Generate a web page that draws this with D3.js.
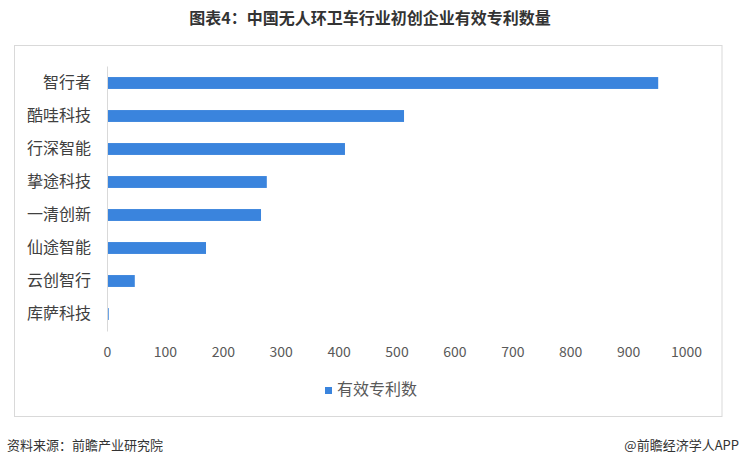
<!DOCTYPE html>
<html>
<head>
<meta charset="utf-8">
<script src="https://cdn.jsdelivr.net/npm/d3@7/dist/d3.min.js"></script>
<style>
  html, body { margin: 0; padding: 0; background: #fff; }
  svg { display: block; }
</style>
</head>
<body>
<svg id="chart" width="739" height="459"></svg>
<script>
const categories = ["智行者", "酷哇科技", "行深智能", "挚途科技", "一清创新", "仙途智能", "云创智行", "库萨科技"];
const values = [952, 513, 411, 276, 266, 171, 48, 3];
const xTicks = [0, 100, 200, 300, 400, 500, 600, 700, 800, 900, 1000];
const seriesName = "有效专利数";
const titleText = "图表4：中国无人环卫车行业初创企业有效专利数量";
const sourceText = "资料来源：前瞻产业研究院";
const creditText = "@前瞻经济学人APP";

const font = "'Noto Sans CJK SC', 'Noto Sans', sans-serif";
const svg = d3.select("#chart");

// frame
svg.append("rect")
  .attr("x", 14.5).attr("y", 45.5).attr("width", 707.5).attr("height", 371)
  .attr("fill", "none").attr("stroke", "#d9d9d9").attr("stroke-width", 1);

// title
svg.append("text")
  .attr("x", 370).attr("y", 24)
  .attr("text-anchor", "middle")
  .attr("font-family", font).attr("font-weight", "bold")
  .attr("font-size", 16).attr("fill", "#333")
  .text(titleText);

const x = d3.scaleLinear().domain([0, 1000]).range([107, 686]);
const y = d3.scaleBand().domain(categories).range([66.5, 330.5]).paddingInner(0.64).paddingOuter(0.32);

// bars
svg.append("g").selectAll("rect")
  .data(categories)
  .join("rect")
  .attr("x", x(0) + 1)
  .attr("y", d => y(d))
  .attr("width", (d, i) => Math.max(0, x(values[i]) - x(0) - 1))
  .attr("height", y.bandwidth())
  .attr("fill", "#3a84dd");

// y axis
const yAxis = svg.append("g")
  .attr("transform", `translate(${x(0)},0)`)
  .call(d3.axisLeft(y).tickSize(0).tickPadding(16));
yAxis.select(".domain").attr("stroke", "#d9d9d9").attr("d", `M0.5,66.5V331.5`);
yAxis.selectAll("text")
  .attr("font-family", font).attr("font-size", 16).attr("fill", "#404040");

// x axis
const xAxis = svg.append("g")
  .attr("transform", `translate(0,331)`)
  .call(d3.axisBottom(x).tickValues(xTicks).tickSize(0).tickPadding(16).tickFormat(d3.format("d")));
xAxis.select(".domain").remove();
xAxis.selectAll("text")
  .attr("font-family", font).attr("font-size", 14).attr("fill", "#595959");

// legend
const lg = svg.append("g");
lg.append("rect").attr("x", 325).attr("y", 387).attr("width", 7).attr("height", 7).attr("fill", "#3a84dd");
lg.append("text").attr("x", 337).attr("y", 390.5).attr("dominant-baseline", "middle")
  .attr("font-family", font).attr("font-size", 16).attr("fill", "#595959").text(seriesName);

// footer
svg.append("text").attr("x", 7).attr("y", 446).attr("dominant-baseline", "middle")
  .attr("font-family", font).attr("font-size", 13).attr("fill", "#333").text(sourceText);
svg.append("text").attr("x", 739).attr("y", 446).attr("dominant-baseline", "middle").attr("text-anchor", "end")
  .attr("font-family", font).attr("font-size", 13).attr("fill", "#333").text(creditText);
</script>
</body>
</html>
